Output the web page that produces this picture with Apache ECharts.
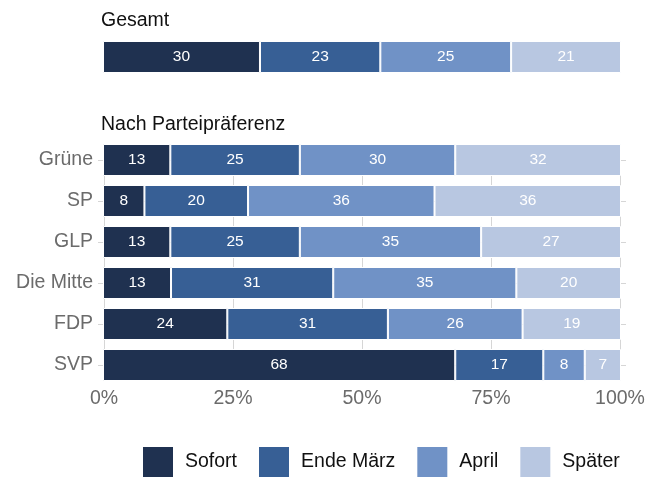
<!DOCTYPE html>
<html>
<head>
<meta charset="utf-8">
<script src="https://cdn.jsdelivr.net/npm/echarts@6/dist/echarts.min.js"></script>
<style>html,body{margin:0;padding:0;background:#fff}#c{width:649px;height:477px}</style>
</head>
<body>
<div id="c"></div>
<script>
var seriesNames = ['Sofort', 'Ende März', 'April', 'Später'];
var colors = ['#1f3150', '#375f95', '#7092c6', '#b8c7e1'];
var xTicks = [0, 25, 50, 75, 100];

var gesamtCategory = ['Gesamt'];
var gesamtValues = [30, 23, 25, 21];

var parties = ['Grüne', 'SP', 'GLP', 'Die Mitte', 'FDP', 'SVP'];
var sofort = [13, 8, 13, 13, 24, 68];
var endeMaerz = [25, 20, 25, 31, 31, 17];
var april = [30, 36, 35, 35, 26, 8];
var spaeter = [32, 36, 27, 20, 19, 7];

var partyRows = [sofort, endeMaerz, april, spaeter];
var partySums = parties.map(function (p, i) {
  return sofort[i] + endeMaerz[i] + april[i] + spaeter[i];
});
var gesamtSum = gesamtValues.reduce(function (a, b) { return a + b; }, 0);

var FONT = 'Liberation Sans, Arial, Helvetica, sans-serif';
var grey = '#6b6b6b';
var gridCol = '#d6d6d6';

var series = [];
seriesNames.forEach(function (name, k) {
  series.push({
    name: name, type: 'bar', stack: 'g', xAxisIndex: 0, yAxisIndex: 0,
    barWidth: 32, clip: false,
    itemStyle: { color: colors[k], borderColor: '#fff', borderWidth: 1 },
    label: { show: true, position: 'inside', color: '#fff', fontSize: 15.5, fontFamily: FONT,
      padding: [3, 0, 0, 0],
      formatter: function () { return String(gesamtValues[k]); } },
    data: [gesamtValues[k] / gesamtSum * 100]
  });
});
seriesNames.forEach(function (name, k) {
  var raw = partyRows[k];
  series.push({
    name: name, type: 'bar', stack: 'p', xAxisIndex: 1, yAxisIndex: 1,
    barWidth: 32, clip: false,
    itemStyle: { color: colors[k], borderColor: '#fff', borderWidth: 1 },
    label: { show: true, position: 'inside', color: '#fff', fontSize: 15.5, fontFamily: FONT,
      padding: [3, 0, 0, 0],
      formatter: function (p) { return String(raw[p.dataIndex]); } },
    data: raw.map(function (v, i) { return v / partySums[i] * 100; })
  });
});

var hiddenAxisParts = { axisLine: { show: false }, axisTick: { show: false }, axisLabel: { show: false }, splitLine: { show: false } };
function ax(extra) { return Object.assign({}, hiddenAxisParts, extra); }

var chart = echarts.init(document.getElementById('c'), null, { renderer: 'canvas' });
chart.setOption({
  animation: false,
  backgroundColor: '#fff',
  textStyle: { fontFamily: FONT },
  title: [
    { text: 'Gesamt', left: 101, top: 11, padding: 0,
      textStyle: { fontSize: 19.5, fontWeight: 'normal', color: '#111', fontFamily: FONT } },
    { text: 'Nach Parteipräferenz', left: 101, top: 115, padding: 0,
      textStyle: { fontSize: 19.5, fontWeight: 'normal', color: '#111', fontFamily: FONT } }
  ],
  legend: {
    data: seriesNames, left: 143, top: 447, padding: 0,
    itemWidth: 30, itemHeight: 30, itemGap: 22,
    icon: 'rect',
    itemStyle: { borderWidth: 0 },
    textStyle: { fontSize: 19.5, color: '#111', fontFamily: FONT, padding: [0, 0, 0, 7] }
  },
  grid: [
    { left: 103, right: 28, top: 42, height: 30 },
    { left: 103, right: 28, top: 160, height: 205 },
    { left: 98, right: 23, top: 42, height: 30 },
    { left: 98, right: 23, top: 160, height: 205 },
    { left: 104, right: 29, top: 160, height: 205 }
  ],
  xAxis: [
    ax({ gridIndex: 0, type: 'value', min: 0, max: 100 }),
    ax({ gridIndex: 1, type: 'value', min: 0, max: 100 }),
    { gridIndex: 2, type: 'value', min: 0, max: 1, show: false },
    { gridIndex: 3, type: 'value', min: 0, max: 1, show: false },
    { gridIndex: 4, type: 'value', min: xTicks[0], max: xTicks[xTicks.length - 1], interval: 25,
      axisLine: { show: false }, axisTick: { show: false },
      axisLabel: { color: grey, fontSize: 19.5, margin: 24, fontFamily: FONT,
        formatter: function (v) { return v + '%'; } },
      splitLine: { show: true, lineStyle: { color: gridCol, width: 1 } } }
  ],
  yAxis: [
    ax({ gridIndex: 0, type: 'category', data: gesamtCategory }),
    ax({ gridIndex: 1, type: 'category', data: parties, inverse: true, boundaryGap: false,
      axisLabel: { show: true, color: grey, fontSize: 19.5, margin: 10, fontFamily: FONT, padding: [8, 0, 0, 0] } }),
    ax({ gridIndex: 2, type: 'value', min: 0, max: 2, interval: 1,
      splitLine: { show: true, showMinLine: false, showMaxLine: false,
        lineStyle: { color: ['rgba(0,0,0,0)', gridCol, 'rgba(0,0,0,0)'], width: 1 } } }),
    ax({ gridIndex: 3, type: 'value', min: 0, max: 5, interval: 1,
      splitLine: { show: true, lineStyle: { color: gridCol, width: 1 } } }),
    { gridIndex: 4, type: 'value', min: 0, max: 1, show: false }
  ],
  series: series
});
</script>
</body>
</html>
